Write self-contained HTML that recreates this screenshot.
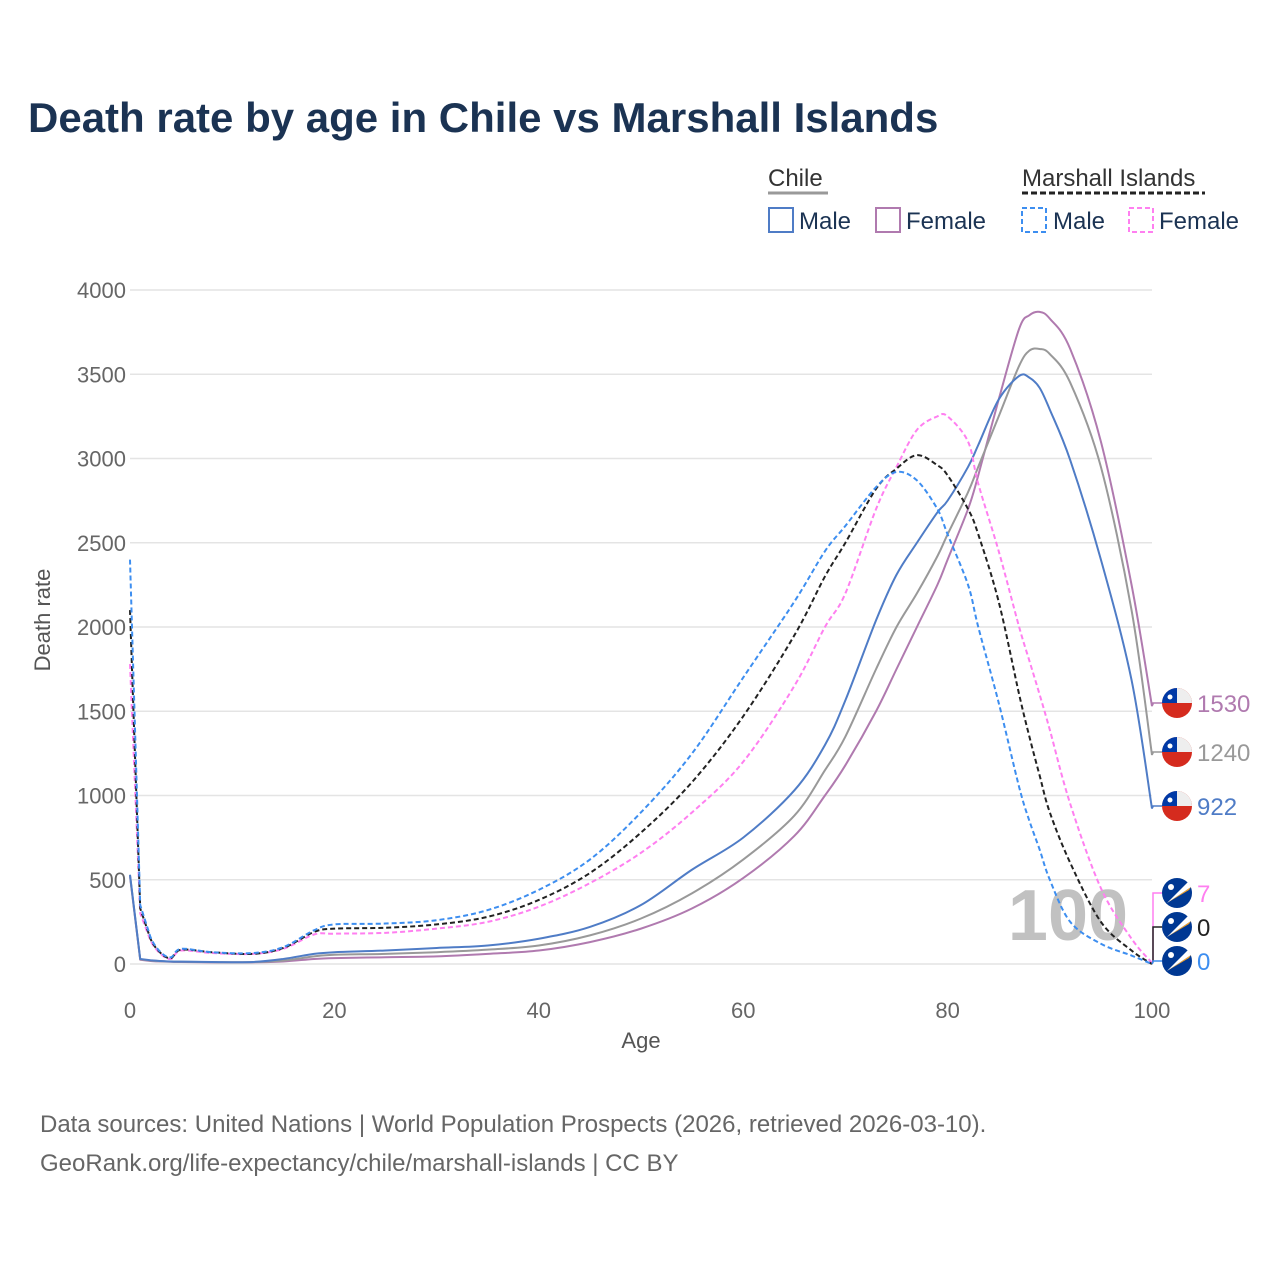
<!DOCTYPE html>
<html><head><meta charset="utf-8"><style>
body{margin:0;background:#fff;}
svg text{font-family:"Liberation Sans",sans-serif;}
</style></head><body>
<svg id="chart" width="1280" height="1280" viewBox="0 0 1280 1280" xmlns="http://www.w3.org/2000/svg">
<text x="28" y="132" font-size="42" font-weight="bold" fill="#1b3353">Death rate by age in Chile vs Marshall Islands</text>
<g font-size="24" fill="#1b3353">
<text x="768" y="186" fill="#333">Chile</text>
<line x1="768" y1="193" x2="828" y2="193" stroke="#999" stroke-width="3"/>
<text x="1022" y="186" fill="#333">Marshall Islands</text>
<line x1="1022" y1="193" x2="1205" y2="193" stroke="#222" stroke-width="3" stroke-dasharray="6,3"/>
<rect x="769" y="208" width="24" height="24" fill="none" stroke="#4f7cc6" stroke-width="2"/>
<text x="799" y="229">Male</text>
<rect x="876" y="208" width="24" height="24" fill="none" stroke="#b07aaf" stroke-width="2"/>
<text x="906" y="229">Female</text>
<rect x="1022" y="208" width="24" height="24" fill="none" stroke="#3d8ef0" stroke-width="2" stroke-dasharray="5,3"/>
<text x="1053" y="229">Male</text>
<rect x="1129" y="208" width="24" height="24" fill="none" stroke="#ff7ff0" stroke-width="2" stroke-dasharray="5,3"/>
<text x="1159" y="229">Female</text>
</g>
<g id="grid"></g>
<text x="1068" y="940" font-size="72" font-weight="bold" fill="#bbb" text-anchor="middle" opacity="0.9">100</text>
<g id="series"></g>
<g id="labels"></g>
<text x="50" y="620" font-size="22" fill="#555" text-anchor="middle" transform="rotate(-90 50 620)">Death rate</text>
<text x="641" y="1048" font-size="22" fill="#555" text-anchor="middle">Age</text>
<text x="40" y="1132" font-size="24" fill="#666">Data sources: United Nations | World Population Prospects (2026, retrieved 2026-03-10).</text>
<text x="40" y="1171" font-size="24" fill="#666">GeoRank.org/life-expectancy/chile/marshall-islands | CC BY</text>
</svg>
<script>
const ages=[0,1,2,3,4,5,8,12,15,18,20,25,30,35,40,45,50,55,60,65,68,70,73,75,77,79,80,82,83,85,87,88,89,90,92,95,98,100];
const chileMale=[530,30,22,18,15,14,12,12,30,60,70,80,95,110,150,220,350,560,750,1030,1300,1565,2040,2310,2500,2680,2750,2950,3080,3350,3490,3480,3420,3290,2990,2400,1685,922];
const chileBoth=[525,28,20,16,14,13,11,11,20,45,55,60,70,85,110,170,270,420,620,880,1150,1350,1750,2000,2200,2420,2550,2800,2950,3250,3550,3640,3650,3620,3450,2950,2100,1240];
const chileFemale=[520,25,18,15,13,12,10,10,15,30,35,40,45,60,80,130,210,330,510,760,1000,1180,1500,1750,2000,2250,2400,2700,2900,3350,3770,3850,3870,3830,3650,3100,2250,1530];
const mhMale=[2400,350,160,70,40,90,70,65,100,200,235,240,260,320,440,620,900,1250,1700,2150,2450,2600,2830,2920,2870,2700,2550,2250,2000,1550,1050,850,680,500,250,120,50,0];
const mhBoth=[2100,330,150,65,35,85,70,60,95,190,210,215,235,280,380,540,780,1080,1470,1950,2300,2500,2820,2940,3020,2960,2900,2700,2550,2150,1600,1350,1120,900,600,250,80,0];
const mhFemale=[1780,300,140,60,30,80,65,60,90,175,180,185,210,250,340,480,660,900,1200,1650,2000,2200,2700,2950,3170,3250,3250,3100,2850,2450,2000,1800,1600,1390,950,450,150,7];
const yTicks=[0,500,1000,1500,2000,2500,3000,3500,4000];
const xTicks=[0,20,40,60,80,100];
const NS='http://www.w3.org/2000/svg';
const X=a=>130+a*(1152-130)/100;
const Y=v=>964-v*(964-290)/4000;
function mk(t,attrs,parent){const e=document.createElementNS(NS,t);for(const k in attrs)e.setAttribute(k,attrs[k]);parent.appendChild(e);return e;}
function smooth(pts){
  let d=`M${pts[0][0]},${pts[0][1]}`;
  for(let i=0;i<pts.length-1;i++){
    const p0=pts[Math.max(0,i-1)],p1=pts[i],p2=pts[i+1],p3=pts[Math.min(pts.length-1,i+2)];
    const t=i<2?0:1/6;
    d+=` C${p1[0]+(p2[0]-p0[0])*t},${p1[1]+(p2[1]-p0[1])*t} ${p2[0]-(p3[0]-p1[0])*t},${p2[1]-(p3[1]-p1[1])*t} ${p2[0]},${p2[1]}`;
  }
  return d;
}
const grid=document.getElementById('grid');
yTicks.forEach(v=>{
  const l=mk('line',{x1:130,x2:1152,y1:Y(v),y2:Y(v),stroke:'#e4e4e4','stroke-width':1.5},grid);
  
  
  const t=mk('text',{x:126,y:Y(v)+8,'font-size':22,fill:'#666','text-anchor':'end'},grid);
  t.textContent=v;
  
  
});
xTicks.forEach(a=>{
  const t=mk('text',{x:X(a),y:1018,'font-size':22,fill:'#666','text-anchor':'middle'},grid);
  t.textContent=a;
  
  
});
const ser=document.getElementById('series');
const defs=[[chileFemale,'#b07aaf',null,'chile-female-line'],[chileBoth,'#999',null,'chile-both-line'],[chileMale,'#4f7cc6',null,'chile-male-line'],
[mhFemale,'#ff7ff0','5,3','marshall-female-line'],[mhBoth,'#222','5,3','marshall-both-line'],[mhMale,'#3d8ef0','5,3','marshall-male-line']];
defs.forEach(([d,c,dash,n])=>{
  const p=mk('path',{d:smooth(ages.map((a,i)=>[X(a),Y(d[i])])),fill:'none',stroke:c,'stroke-width':2,'stroke-linejoin':'round'},ser);
  if(dash)p.setAttribute('stroke-dasharray',dash);
  
  
});
const lab=document.getElementById('labels');
const ends=[[chileFemale,'#b07aaf',703,'chile'],[chileBoth,'#999',752,'chile'],[chileMale,'#4f7cc6',806,'chile'],
[mhFemale,'#ff7ff0',893,'mh'],[mhBoth,'#222',927,'mh'],[mhMale,'#3d8ef0',961,'mh']];
ends.forEach(([d,c,y,f])=>{
  const v=d[d.length-1];
  mk('polyline',{points:`${X(100)},${Y(v)} 1153,${Y(v)-2} 1153,${y} 1162,${y}`,fill:'none',stroke:c,'stroke-width':1.5},lab);
  const g=mk('g',{},lab);
  
  
  const cx=1177;
  if(f==='chile'){
    mk('circle',{cx:cx,cy:y,r:15,fill:'#d52b1e'},g);
    mk('path',{d:`M${cx-15},${y} A15,15 0 0 1 ${cx+15},${y} Z`,fill:'#eee'},g);
    mk('path',{d:`M${cx-15},${y} A15,15 0 0 1 ${cx},${y-15} L${cx},${y} Z`,fill:'#0039a6'},g);
    mk('circle',{cx:cx-7,cy:y-6,r:2.5,fill:'#fff'},g);
  }else{
    mk('circle',{cx:cx,cy:y,r:15,fill:'#003893'},g);
    mk('path',{d:`M${cx-10},${y+10} L${cx+14},${y-6} L${cx+12},${y-3} Z`,fill:'#f5a020'},g);
    mk('path',{d:`M${cx-10},${y+10} L${cx+11},${y-11} L${cx+14},${y-6} Z`,fill:'#fff'},g);
    mk('circle',{cx:cx-6,cy:y-6,r:3,fill:'#fff'},g);
  }
  const t=mk('text',{x:1197,y:y+9,'font-size':24,fill:c},lab);
  t.textContent=v;
  
  
});
</script>
</body></html>
